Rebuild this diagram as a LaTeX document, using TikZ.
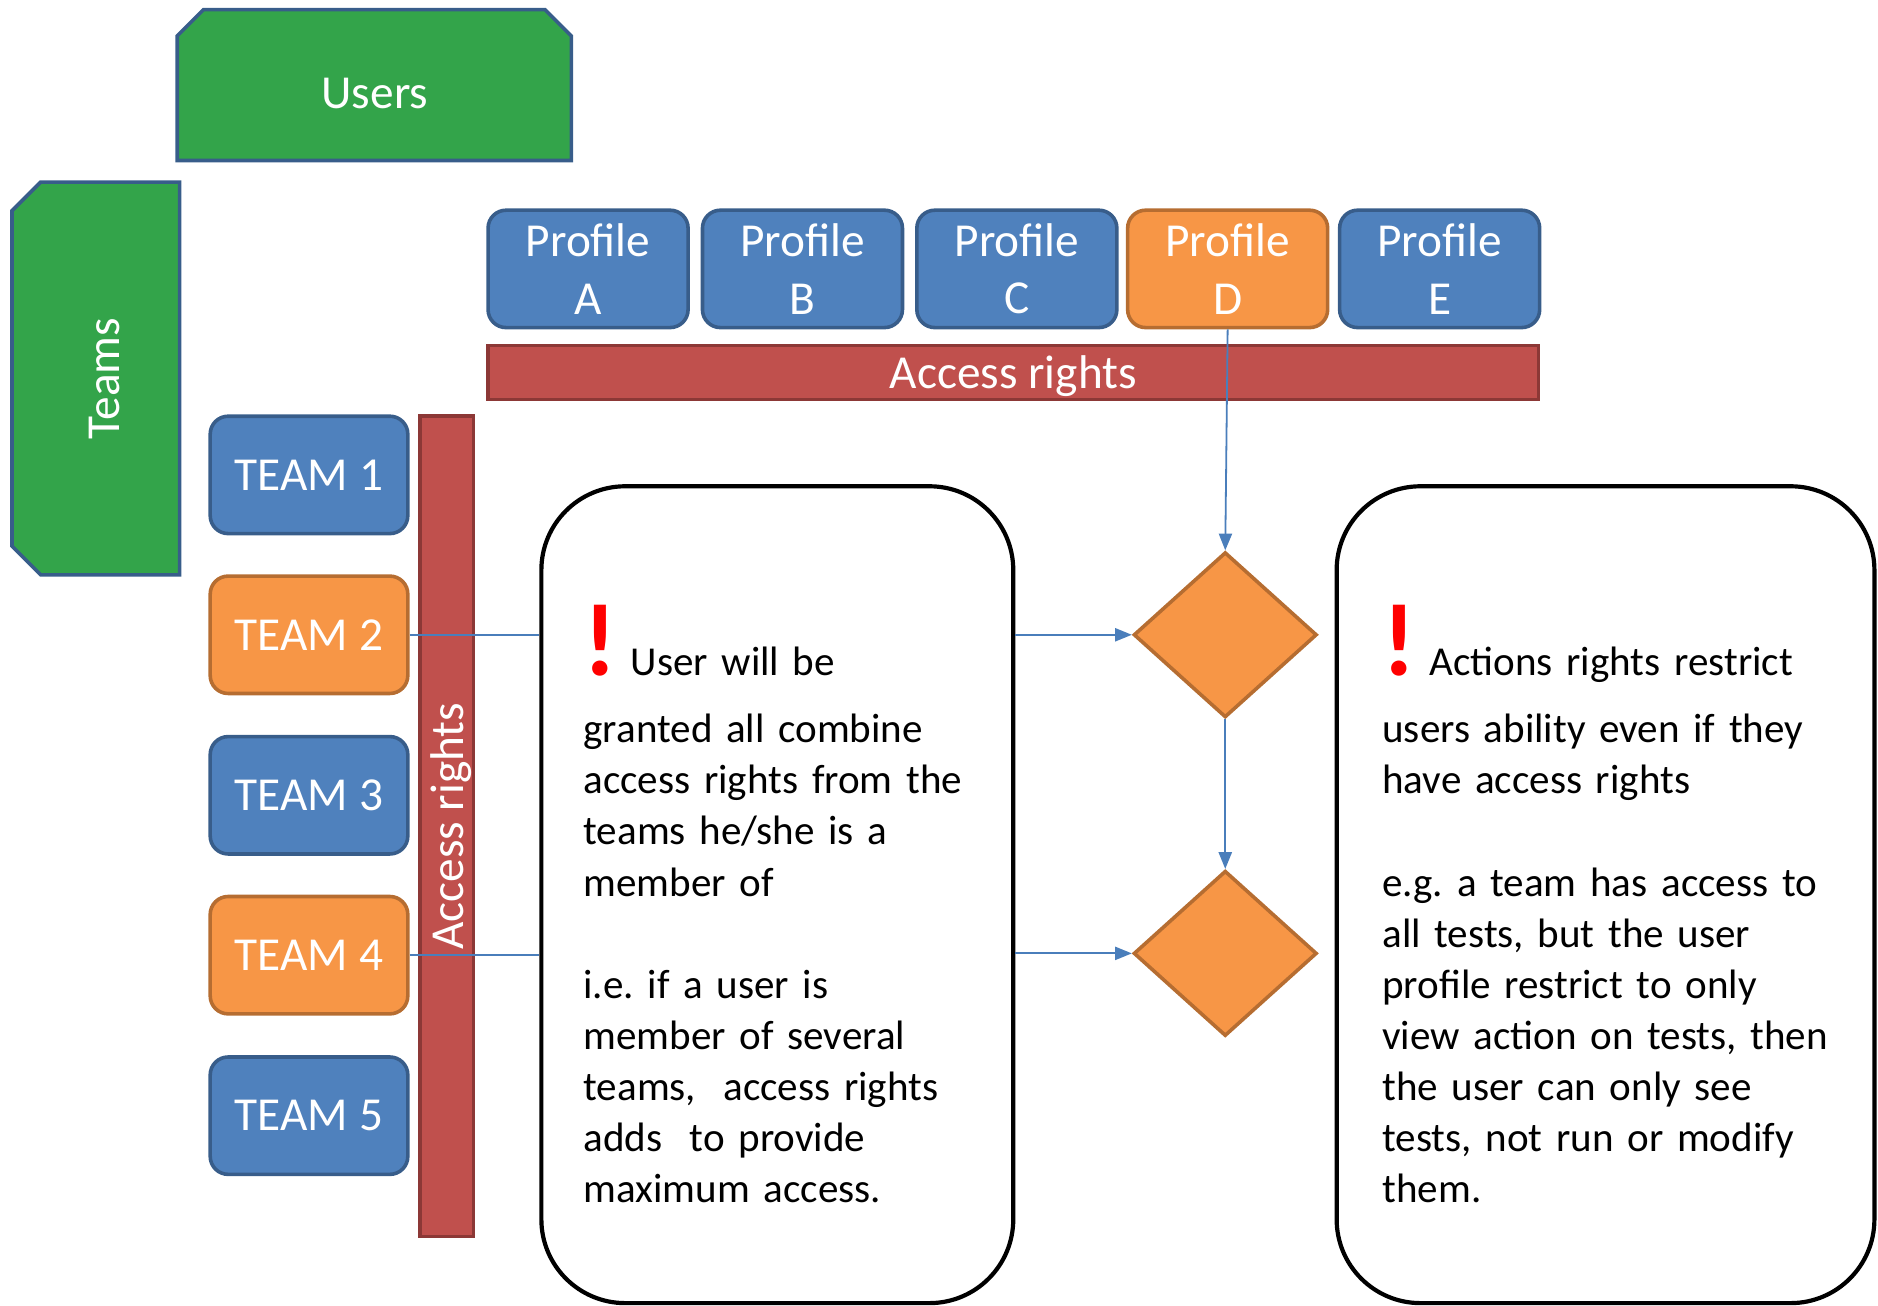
\documentclass[tikz,border=0pt]{standalone}
\usepackage{fontspec}
\setmainfont{Carlito}
\usetikzlibrary{arrows.meta,shapes.geometric}
\frenchspacing

\definecolor{boxgreen}{RGB}{51,164,74}
\definecolor{edgeblue}{RGB}{56,93,138}
\definecolor{fillblue}{RGB}{79,129,189}
\definecolor{fillorange}{RGB}{247,150,70}
\definecolor{edgeorange}{RGB}{182,109,49}
\definecolor{fillred}{RGB}{192,80,77}
\definecolor{edgered}{RGB}{140,56,54}
\definecolor{linkblue}{RGB}{74,126,187}

\tikzset{
    titletext/.style={text=white, font=\fontsize{39.5}{48}\selectfont},
    greenshape/.style={draw=edgeblue, fill=boxgreen, line width=3pt},
    bluebox/.style={titletext, draw=edgeblue, fill=fillblue, line width=3pt,
        rounded corners=15pt, align=center, inner sep=0pt},
    orangebox/.style={bluebox, draw=edgeorange, fill=fillorange},
    rightsbar/.style={titletext, draw=edgered, fill=fillred, line width=3pt,
        inner sep=0pt, text depth=0pt},
    notebox/.style={draw=black, fill=white, line width=3.5pt, rounded corners=70pt},
    notetext/.style={font=\fontsize{34.3}{42.7}\selectfont, align=left,
        text width=400pt, inner sep=0pt, anchor=base west},
    choice/.style={diamond, draw=edgeorange, fill=fillorange, line width=3pt,
        inner sep=0pt, minimum width=153pt, minimum height=138pt},
    link/.style={draw=linkblue, line width=1.5pt},
    linkarrow/.style={link, -{Triangle[length=14pt,width=11pt]}}
}
\newcommand{\warnmark}{{\color{red}\fontsize{86}{86}\selectfont\bfseries !}}

\begin{document}
\begin{tikzpicture}[x=1pt, y=-1pt]
    \useasboundingbox (0,0) rectangle (1568,1090);

    % draw users and teams headers
    \draw[greenshape] (148,134) -- (148,30) -- (170,8) -- (455,8) -- (477,30) -- (477,134) -- cycle;
    \node[titletext] (users) at (313,78) {Users};
    \draw[greenshape] (150,152) -- (34,152) -- (10,176) -- (10,456) -- (34,480) -- (150,480) -- cycle;
    \node[titletext, rotate=90] (teams) at (87,316) {Teams};

    % draw profiles
    \foreach \x/\l/\s in {491/A/bluebox, 670/B/bluebox, 849/C/bluebox, 1025/D/orangebox, 1202/E/bluebox}
        \node[\s, minimum width=167pt, minimum height=98pt] (prof\l) at (\x,224.5) {Profile\\\l};
    \node[rightsbar, minimum width=877pt, minimum height=45pt] (hbar) at (846,311) {Access rights};

    % draw teams
    \foreach \n/\y/\s in {1/396.5/bluebox, 2/530/orangebox, 3/664/bluebox, 4/797.5/orangebox, 5/931.5/bluebox}
        \node[\s, minimum width=165pt, minimum height=98pt] (team\n) at (258,\y) {TEAM \n};
    \node[rightsbar, rotate=90, minimum width=685pt, minimum height=45pt] (vbar) at (373,690) {Access rights};

    % draw notes
    \node[notebox, minimum width=394pt, minimum height=682pt] (note1) at (649,747) {};
    \node[notetext] (text1) at (487,564) {\warnmark\ User will be\\[13.3pt]
        granted all combine\\
        access rights from the\\
        teams he/she is a\\
        member of\\[42.7pt]
        i.e. if a user is\\
        member of several\\
        teams,~ access rights\\
        adds~ to provide\\
        maximum access.};
    \node[notebox, minimum width=449pt, minimum height=682pt] (note2) at (1340.5,747) {};
    \node[notetext] (text2) at (1154,564) {\warnmark\ Actions rights restrict\\[13.3pt]
        users ability even if they\\
        have access rights\\[42.7pt]
        e.g. a team has access to\\
        all tests, but the user\\
        profile restrict to only\\
        view action on tests, then\\
        the user can only see\\
        tests, not run or modify\\
        them.};

    % draw checks
    \node[choice] (dia1) at (1023,530) {};
    \node[choice] (dia2) at (1023,796) {};

    % draw links
    \draw[linkarrow] (profD.south) -- (dia1.north);
    \draw[link] (team2.east) -- (team2.east -| note1.west);
    \draw[linkarrow] (note1.east |- dia1.west) -- (dia1.west);
    \draw[linkarrow] (dia1.south) -- (dia2.north);
    \draw[link] (team4.east) -- (team4.east -| note1.west);
    \draw[linkarrow] (note1.east |- dia2.west) -- (dia2.west);

\end{tikzpicture}
\end{document}
